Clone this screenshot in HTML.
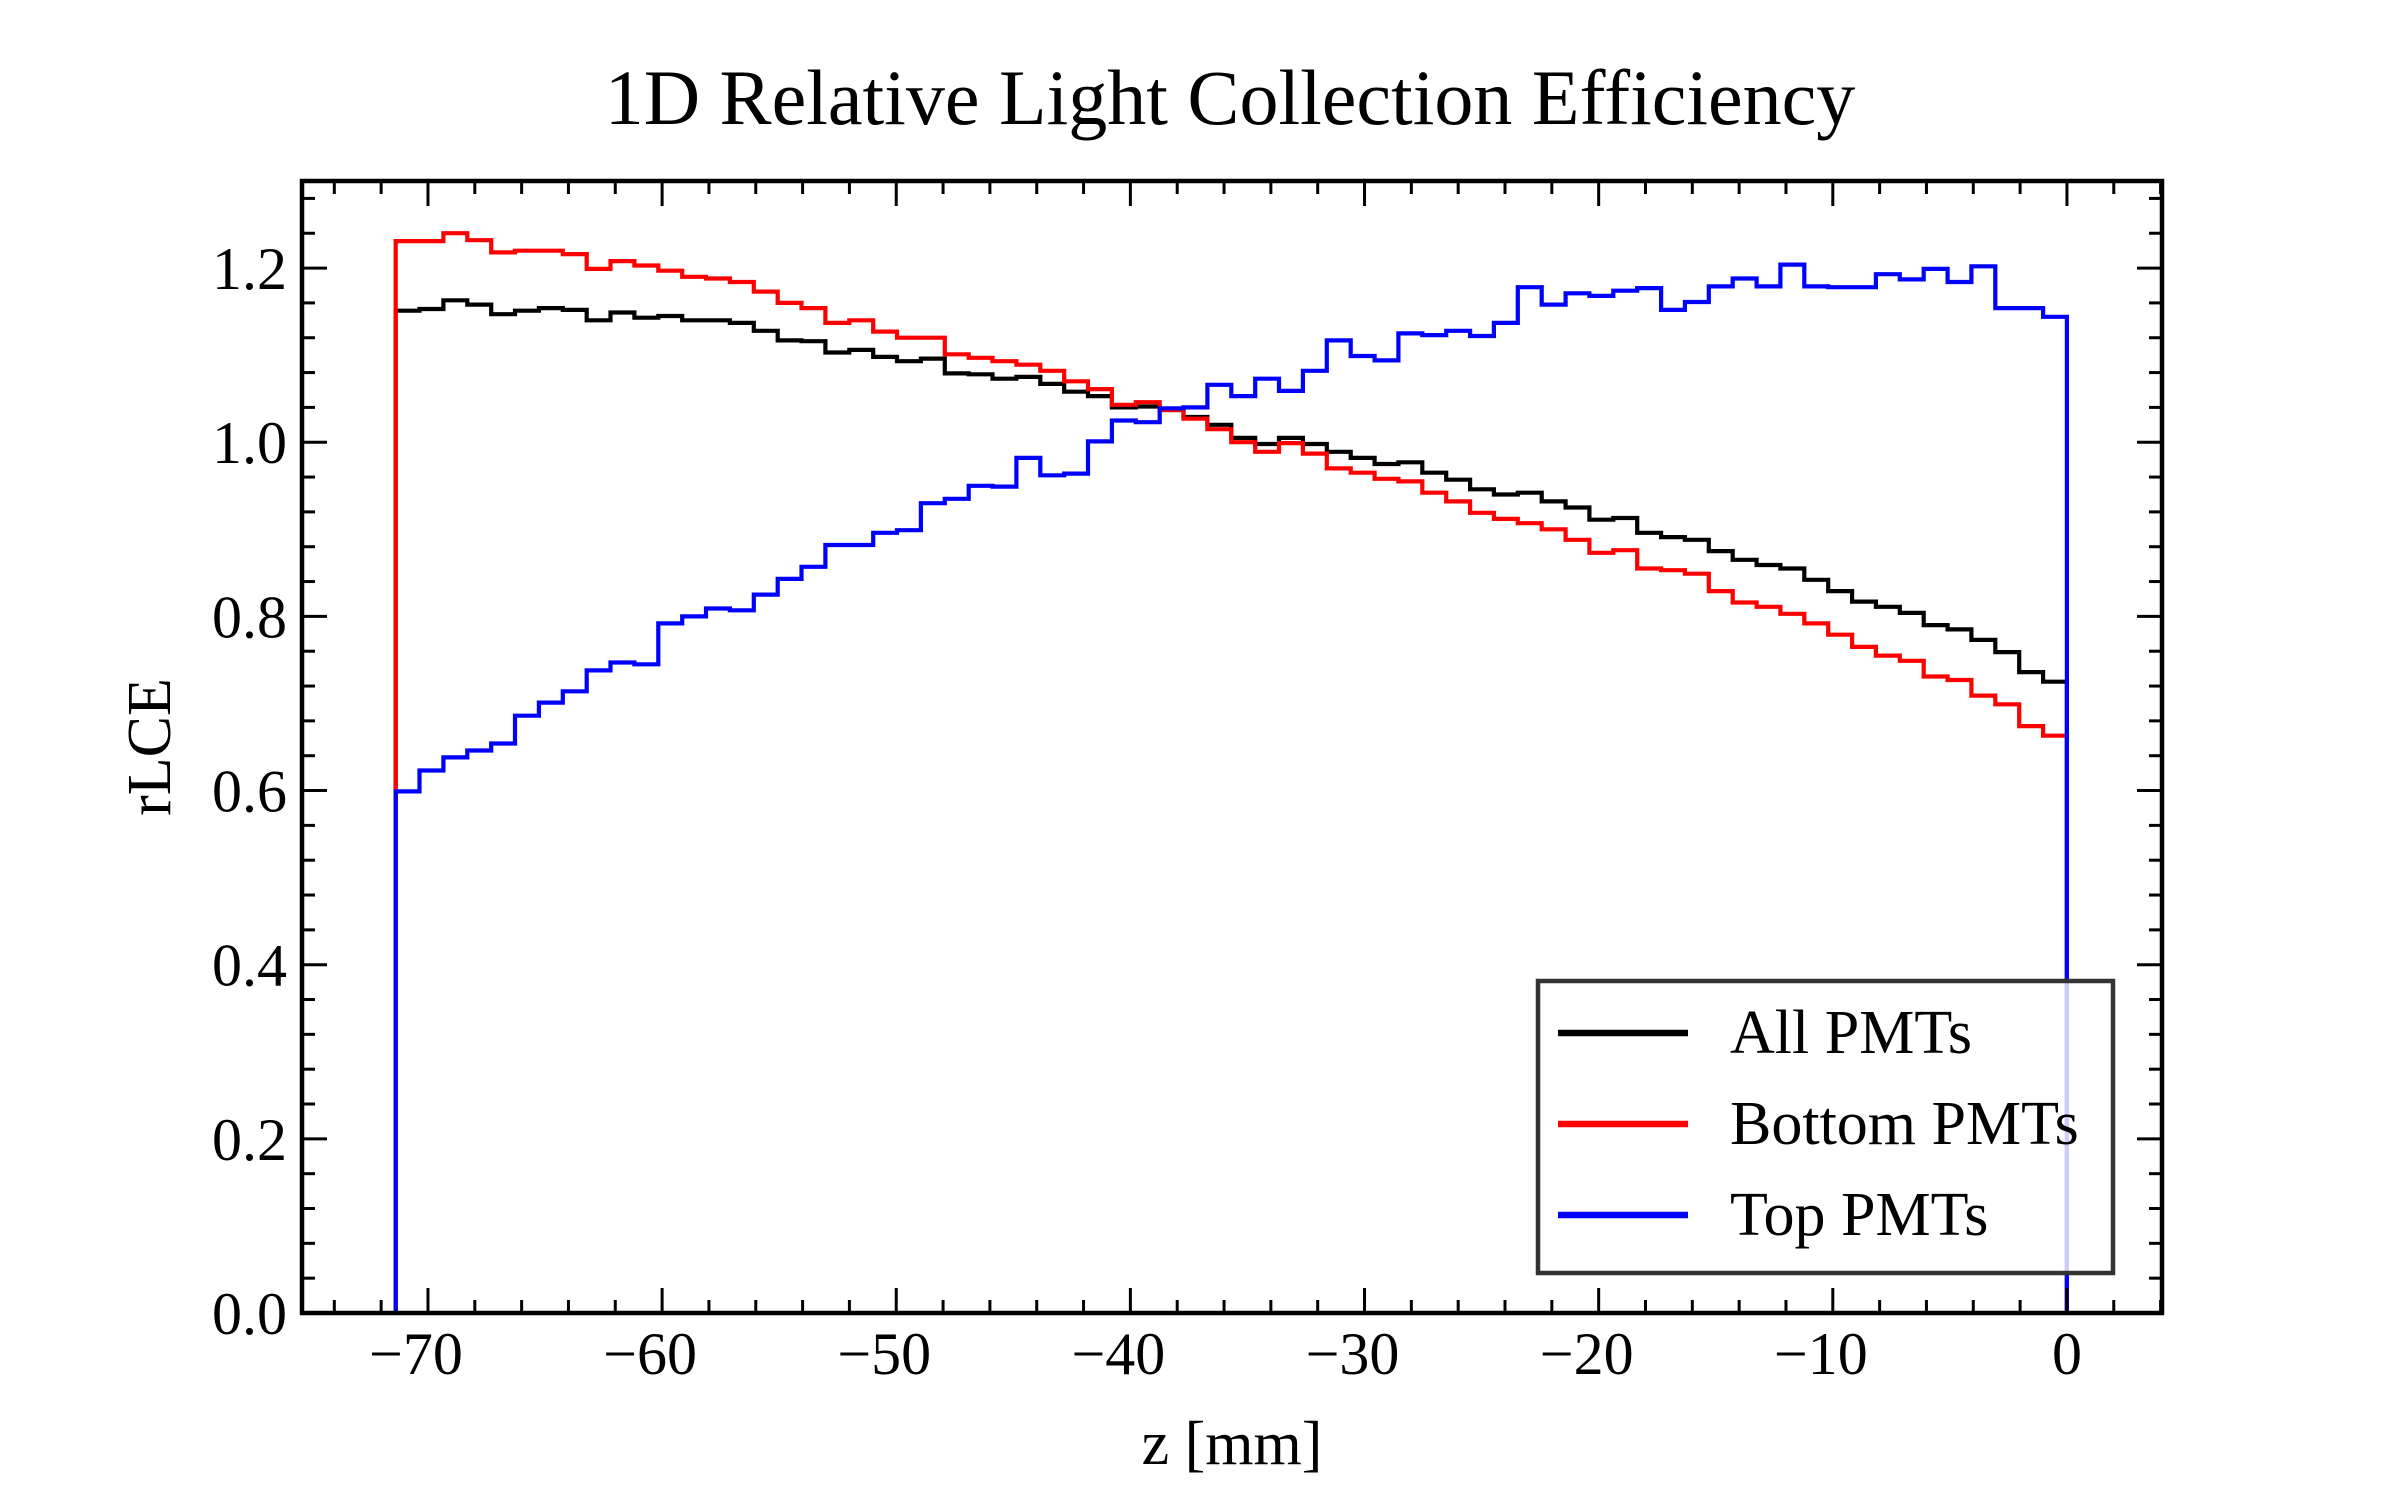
<!DOCTYPE html>
<html><head><meta charset="utf-8"><style>
body{margin:0;background:#fff}
svg text{font-family:"Liberation Serif","DejaVu Serif",serif;fill:#000}
</style></head><body>
<svg id="chart" width="2400" height="1500" xmlns="http://www.w3.org/2000/svg">
<rect width="2400" height="1500" fill="#fff"/>
<text x="1230" y="124" font-size="78" text-anchor="middle">1D Relative Light Collection Efficiency</text>
<text x="1232" y="1464" font-size="62" text-anchor="middle">z [mm]</text>
<text transform="translate(170,747) rotate(-90)" font-size="62" text-anchor="middle">rLCE</text>
<g id="series"></g>
<g id="axes"></g>
<g id="legend"></g>
</svg>
<script>
const binLo = -71.38;
const binHi = 0;
const allPMTs = [1.151,1.153,1.163,1.158,1.147,1.151,1.154,1.152,1.140,1.149,1.143,1.145,1.140,1.140,1.137,1.128,1.117,1.116,1.103,1.106,1.098,1.093,1.096,1.079,1.078,1.073,1.075,1.067,1.058,1.053,1.040,1.041,1.037,1.029,1.020,1.005,0.998,1.005,0.998,0.989,0.982,0.975,0.977,0.965,0.957,0.946,0.940,0.942,0.932,0.925,0.911,0.913,0.896,0.891,0.888,0.875,0.865,0.859,0.855,0.842,0.829,0.817,0.811,0.804,0.790,0.785,0.773,0.759,0.736,0.725];
const bottomPMTs = [1.231,1.231,1.240,1.232,1.218,1.220,1.220,1.216,1.199,1.208,1.203,1.197,1.190,1.188,1.184,1.173,1.160,1.154,1.137,1.140,1.127,1.120,1.120,1.101,1.097,1.093,1.089,1.082,1.070,1.061,1.043,1.046,1.037,1.027,1.015,1.000,0.989,0.999,0.987,0.970,0.965,0.958,0.955,0.942,0.932,0.919,0.912,0.907,0.900,0.888,0.873,0.876,0.855,0.853,0.849,0.829,0.816,0.811,0.803,0.792,0.779,0.765,0.755,0.749,0.731,0.727,0.709,0.699,0.674,0.663];
const topPMTs = [0.599,0.623,0.638,0.646,0.654,0.686,0.701,0.714,0.738,0.747,0.745,0.792,0.800,0.809,0.807,0.825,0.843,0.857,0.882,0.882,0.896,0.899,0.930,0.935,0.950,0.949,0.982,0.962,0.964,1.001,1.025,1.023,1.039,1.040,1.066,1.053,1.073,1.059,1.082,1.117,1.099,1.094,1.125,1.123,1.128,1.122,1.137,1.178,1.158,1.171,1.168,1.174,1.177,1.152,1.161,1.179,1.188,1.179,1.204,1.179,1.178,1.178,1.193,1.187,1.199,1.184,1.202,1.154,1.154,1.144];
const xTicks = [-70,-60,-50,-40,-30,-20,-10,0];
const xTickLabels = ["\u221270","\u221260","\u221250","\u221240","\u221230","\u221220","\u221210","0"];
const yTicks = [0,0.2,0.4,0.6,0.8,1.0,1.2];
const yTickLabels = ["0.0","0.2","0.4","0.6","0.8","1.0","1.2"];
const seriesNames = ["All PMTs","Bottom PMTs","Top PMTs"];

const NS="http://www.w3.org/2000/svg";
const L=302,R=2162,T=181,B=1313,XMIN=-75.38,XMAX=4.06,YMIN=0,YMAX=1.3;
function sx(v){return L+(v-XMIN)*(R-L)/(XMAX-XMIN);}
function sy(v){return B-(v-YMIN)*(B-T)/(YMAX-YMIN);}
function mk(tag,attrs,parent){const e=document.createElementNS(NS,tag);for(const k in attrs)e.setAttribute(k,attrs[k]);parent.appendChild(e);return e;}

const sg=document.getElementById('series');
function stepPath(vals){
  const n=vals.length,w=(binHi-binLo)/n;
  let d='M'+sx(binLo).toFixed(1)+','+sy(0).toFixed(1);
  for(let i=0;i<n;i++){
    d+=' V'+sy(vals[i]).toFixed(1)+' H'+sx(binLo+(i+1)*w).toFixed(1);
  }
  d+=' V'+sy(0).toFixed(1);
  return d;
}
const sdefs=[[allPMTs,'#000','all-pmts-line'],[bottomPMTs,'#ff0000','bottom-pmts-line'],[topPMTs,'#0000ff','top-pmts-line']];
sdefs.forEach(s=>{
  const p=mk('path',{d:stepPath(s[0]),fill:'none',stroke:s[1],'stroke-width':4.2,'stroke-linejoin':'miter'},sg);
  
  
});

const ag=document.getElementById('axes');
for(let v=-74;v<=4;v+=2){
  const x=sx(v);const major=(v%10===0);const len=major?25:13;
  const t1=mk('line',{x1:x,y1:B,x2:x,y2:B-len,stroke:'#000','stroke-width':3},ag);
  
  
  const t2=mk('line',{x1:x,y1:T,x2:x,y2:T+len,stroke:'#000','stroke-width':3},ag);
  
  
}
for(let k=0;k<=32;k++){
  const v=k*0.04;const y=sy(v);const major=(k%5===0);const len=major?25:13;
  const t1=mk('line',{x1:L,y1:y,x2:L+len,y2:y,stroke:'#000','stroke-width':3},ag);
  
  
  const t2=mk('line',{x1:R,y1:y,x2:R-len,y2:y,stroke:'#000','stroke-width':3},ag);
  
  
}
xTicks.forEach((v,i)=>{
  const t=mk('text',{x:sx(v)-(v<0?12:0),y:1374,'font-size':60,'text-anchor':'middle'},ag);
  t.textContent=xTickLabels[i];
  
  
});
yTicks.forEach((v,i)=>{
  const t=mk('text',{x:287,y:sy(v)+21,'font-size':60,'text-anchor':'end'},ag);
  t.textContent=yTickLabels[i];
  
  
});
const fr=mk('rect',{x:L,y:T,width:R-L,height:B-T,fill:'none',stroke:'#000','stroke-width':4.5},ag);



const lg=document.getElementById('legend');
const box=mk('rect',{x:1538,y:981,width:575,height:292,fill:'rgba(255,255,255,0.8)',stroke:'#333','stroke-width':4.5},lg);


const lcols=['#000','#ff0000','#0000ff'];
const lys=[1033,1124,1215];
seriesNames.forEach((nm,i)=>{
  const ln=mk('line',{x1:1558,y1:lys[i],x2:1688,y2:lys[i],stroke:lcols[i],'stroke-width':6.5},lg);
  
  
  const t=mk('text',{x:1730,y:lys[i]+20,'font-size':62},lg);
  t.textContent=nm;
  
  
});
</script>
</body></html>
